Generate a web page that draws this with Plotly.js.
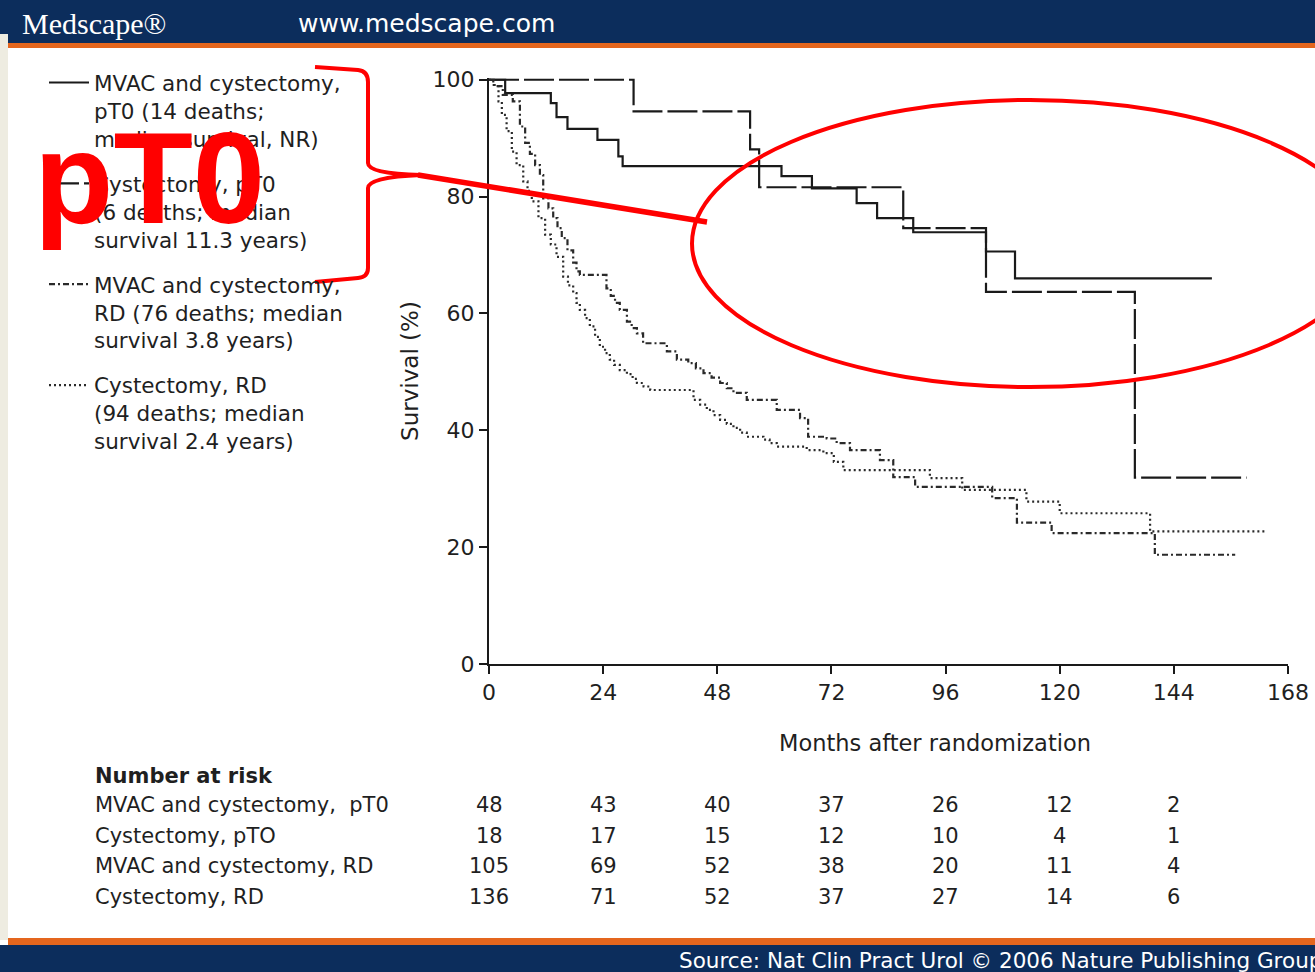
<!DOCTYPE html>
<html>
<head>
<meta charset="utf-8">
<script src="https://cdn.plot.ly/plotly-3.0.1.min.js"></script>
<style>html,body{margin:0;padding:0;background:#fff;}#chart{width:1315px;height:972px;}</style>
</head>
<body>
<div id="chart"></div>
<script>
// ---------------- data ----------------
const seriesNames = [
  "MVAC and cystectomy,<br>pT0 (14 deaths;<br>median survival, NR)",
  "Cystectomy, pT0<br>(6 deaths; median<br>survival 11.3 years)",
  "MVAC and cystectomy,<br>RD (76 deaths; median<br>survival 3.8 years)",
  "Cystectomy, RD<br>(94 deaths; median<br>survival 2.4 years)"
];

const monthsMvacPT0 = [0, 3.4, 13.0, 14.2, 16.5, 22.8, 27.2, 28.1, 61.5, 67.9, 77.3, 81.6, 89.2, 104.5, 110.6, 152.0];
const survMvacPT0   = [100, 97.7, 96.0, 93.6, 91.6, 89.7, 86.9, 85.2, 83.5, 81.4, 78.9, 76.3, 73.9, 70.6, 66.0, 66.0];

const monthsCysPT0 = [0, 30.4, 54.9, 56.8, 87.1, 104.5, 135.8, 159.3];
const survCysPT0   = [100, 94.6, 88.1, 81.6, 74.6, 63.7, 31.9, 31.9];

const monthsMvacRD = [0, 1.0, 2.9, 5.0, 6.5, 7.6, 8.6, 9.7, 10.7, 11.4, 12.5, 13.5, 14.4, 15.3, 16.5, 17.7, 18.4, 19.1, 24.7, 25.6,
  26.5, 27.5, 29.0, 30.0, 31.1, 32.4, 37.4, 39.5, 41.9, 43.5, 45.1, 46.8, 48.6, 50.0, 51.4, 54.2, 60.5, 65.4, 67.1, 71.0,
  73.1, 75.9, 82.2, 85.0, 89.6, 105.8, 111.0, 118.3, 140.0, 156.9];
const survMvacRD = [100, 98.9, 97.4, 96.3, 92.0, 89.2, 87.3, 85.4, 83.7, 79.7, 78.0, 76.3, 74.6, 72.9, 70.8, 68.7, 67.2, 66.6, 64.3, 63.0,
  61.8, 60.6, 58.6, 57.5, 56.6, 54.9, 53.5, 52.1, 51.5, 50.6, 49.8, 49.0, 48.1, 47.2, 46.4, 45.2, 43.5, 42.1, 38.9, 38.6,
  37.8, 36.6, 34.9, 32.0, 30.3, 28.4, 24.2, 22.4, 18.7, 18.7];

const monthsCysRD = [0, 0.9, 2.0, 2.7, 3.7, 4.8, 5.8, 7.2, 8.1, 9.0, 10.4, 11.8, 13.0, 14.2, 15.6, 16.6, 17.7, 18.4, 19.1, 20.2,
  21.2, 22.3, 23.3, 24.4, 25.4, 26.3, 27.5, 29.0, 30.2, 31.1, 32.5, 33.9, 43.0, 44.4, 45.8, 47.2, 48.6, 50.0, 51.4, 52.8,
  54.2, 57.7, 59.0, 60.5, 66.8, 70.3, 72.5, 74.5, 92.7, 99.5, 113.0, 120.0, 139.0, 163.5];
const survCysRD = [100, 99.1, 96.3, 94.0, 91.2, 87.7, 85.4, 82.6, 81.0, 79.2, 76.3, 73.5, 71.8, 69.7, 66.3, 64.8, 63.5, 61.8, 60.6, 59.2,
  57.8, 56.0, 54.3, 53.2, 52.1, 51.2, 50.3, 49.6, 48.8, 48.1, 47.5, 46.9, 45.2, 44.4, 43.5, 42.6, 41.8, 41.1, 40.4, 39.6,
  38.9, 38.4, 37.8, 37.2, 36.6, 36.1, 34.6, 33.2, 31.8, 29.8, 27.8, 25.8, 22.7, 22.7];

const xTicks = [0, 24, 48, 72, 96, 120, 144, 168];
const yTicks = [0, 20, 40, 60, 80, 100];
const xTitle = "Months after randomization";
const yTitle = "Survival (%)";

const riskTitle = "Number at risk";
const riskTimes = [0, 24, 48, 72, 96, 120, 144];
const riskLabels = ["MVAC and cystectomy,\u00a0 pT0", "Cystectomy, pTO", "MVAC and cystectomy, RD", "Cystectomy, RD"];
const riskMvacPT0 = [48, 43, 40, 37, 26, 12, 2];
const riskCysPT0  = [18, 17, 15, 12, 10, 4, 1];
const riskMvacRD  = [105, 69, 52, 38, 20, 11, 4];
const riskCysRD   = [136, 71, 52, 37, 27, 14, 6];

const headerLogo = "Medscape®";
const headerUrl = "www.medscape.com";
const footerText = "Source: Nat Clin Pract Urol © 2006 Nature Publishing Group";
const overlayText = "pT0";

// ---------------- layout helpers ----------------
const W = 1315, H = 972;
const M = {l: 489, r: 27, t: 78, b: 308};
const PW = W - M.l - M.r;
const PH = H - M.t - M.b;
function px(x) { return (x - M.l) / PW; }
function py(y) { return (H - M.b - y) / PH; }
function pathPx(cmds) {
  return cmds.map(c => {
    if (typeof c === 'string') return c;
    return px(c[0]).toFixed(5) + ',' + py(c[1]).toFixed(5);
  }).join(' ');
}

const FONT = 'DejaVu Sans, Arial, sans-serif';
const INK = '#1f1f1f';

const traces = [
  {x: monthsMvacPT0, y: survMvacPT0, name: seriesNames[0], legendgroup: 'a',
   line: {shape: 'hv', color: '#1a1a1a', width: 2.2, dash: 'solid'}},
  {x: monthsCysPT0, y: survCysPT0, name: seriesNames[1], legendgroup: 'b',
   line: {shape: 'hv', color: '#1a1a1a', width: 2.2, dash: '30px,5px'}},
  {x: monthsMvacRD, y: survMvacRD, name: seriesNames[2], legendgroup: 'c',
   line: {shape: 'hv', color: '#2a2a2a', width: 2.2, dash: '6px,3px,2px,3px'}},
  {x: monthsCysRD, y: survCysRD, name: seriesNames[3], legendgroup: 'd',
   line: {shape: 'hv', color: '#2a2a2a', width: 2.2, dash: '2px,3px'}}
].map(t => Object.assign({type: 'scatter', mode: 'lines', hoverinfo: 'skip'}, t));

// ---------------- annotations ----------------
const annotations = [];
annotations.push({text: headerLogo, xref: 'paper', yref: 'paper', x: px(20), y: py(23), xanchor: 'left', yanchor: 'middle',
  showarrow: false, font: {family: 'Liberation Serif, Times New Roman, serif', size: 30, color: '#ffffff'}});
annotations.push({text: headerUrl, xref: 'paper', yref: 'paper', x: px(296), y: py(24), xanchor: 'left', yanchor: 'middle',
  showarrow: false, font: {family: FONT, size: 25, color: '#ffffff'}});
annotations.push({text: footerText, xref: 'paper', yref: 'paper', x: px(677), y: py(960), xanchor: 'left', yanchor: 'middle',
  showarrow: false, font: {family: FONT, size: 21.5, color: '#ffffff'}});

// x-axis title, placed where the reference shows it
annotations.push({text: xTitle, xref: 'paper', yref: 'paper', x: px(935), y: py(743), xanchor: 'center', yanchor: 'middle',
  showarrow: false, font: {family: FONT, size: 22.5, color: INK}});

// number at risk table
annotations.push({text: '<b>' + riskTitle + '</b>', xref: 'paper', yref: 'paper', x: px(93), y: py(776), xanchor: 'left', yanchor: 'middle',
  showarrow: false, font: {family: FONT, size: 21, color: INK}});
const riskRows = [riskMvacPT0, riskCysPT0, riskMvacRD, riskCysRD];
const rowY = [805, 836, 866, 897];
riskRows.forEach((row, i) => {
  annotations.push({text: riskLabels[i], xref: 'paper', yref: 'paper', x: px(93), y: py(rowY[i]), xanchor: 'left', yanchor: 'middle',
    showarrow: false, font: {family: FONT, size: 21, color: INK}});
  row.forEach((v, j) => {
    annotations.push({text: String(v), xref: 'x', yref: 'paper', x: riskTimes[j], y: py(rowY[i]), xanchor: 'center', yanchor: 'middle',
      showarrow: false, font: {family: FONT, size: 21, color: INK}});
  });
});

// red overlay text
annotations.push({text: '<b>' + overlayText + '</b>', xref: 'paper', yref: 'paper', x: px(32), y: py(178), xanchor: 'left', yanchor: 'middle',
  showarrow: false, font: {family: 'Liberation Sans, Arial, sans-serif', size: 130, color: '#ff0000'}});

// ---------------- shapes ----------------
const NAVY = '#0c2d5c', ORANGE = '#e4661e';
const shapes = [
  {type: 'rect', xref: 'paper', yref: 'paper', x0: px(0), x1: px(W), y0: py(0), y1: py(43), fillcolor: NAVY, line: {width: 0}, layer: 'below'},
  {type: 'rect', xref: 'paper', yref: 'paper', x0: px(0), x1: px(W), y0: py(43), y1: py(48), fillcolor: ORANGE, line: {width: 0}, layer: 'below'},
  {type: 'rect', xref: 'paper', yref: 'paper', x0: px(0), x1: px(8), y0: py(34), y1: py(940), fillcolor: '#eeece1', line: {width: 0}, layer: 'below'},
  {type: 'rect', xref: 'paper', yref: 'paper', x0: px(8), x1: px(W), y0: py(938), y1: py(945), fillcolor: ORANGE, line: {width: 0}, layer: 'below'},
  {type: 'rect', xref: 'paper', yref: 'paper', x0: px(0), x1: px(W), y0: py(945), y1: py(H), fillcolor: NAVY, line: {width: 0}, layer: 'below'},
  {type: 'path', xref: 'paper', yref: 'paper', layer: 'above', line: {color: '#ff0000', width: 4},
   path: pathPx(['M', [315, 67], 'L', [358, 70], 'Q', [368, 71], [368, 82], 'L', [368, 163], 'Q', [368, 174], [421, 175],
                 'Q', [368, 177], [368, 188], 'L', [368, 268], 'Q', [368, 277], [358, 278], 'L', [315, 282]])},
  {type: 'line', xref: 'paper', yref: 'paper', layer: 'above', x0: px(418), y0: py(175), x1: px(707), y1: py(222),
   line: {color: '#ff0000', width: 5.5}},
  {type: 'circle', xref: 'paper', yref: 'paper', layer: 'above', x0: px(692), x1: px(1368), y0: py(100), y1: py(387),
   line: {color: '#ff0000', width: 4}}
];

const layout = {
  width: W, height: H,
  margin: {l: M.l, r: M.r, t: M.t, b: M.b, autoexpand: false},
  paper_bgcolor: '#ffffff', plot_bgcolor: '#ffffff',
  font: {family: FONT, size: 22, color: INK},
  showlegend: true,
  legend: {x: px(44), xanchor: 'left', y: py(62), yanchor: 'top', bgcolor: 'rgba(0,0,0,0)', borderwidth: 0,
           font: {family: FONT, size: 21.5, color: INK}, valign: 'top', tracegroupgap: 14, itemwidth: 40},
  xaxis: {range: [0, 168], tickvals: xTicks, ticktext: xTicks.map(String), showgrid: false, zeroline: false,
          showline: true, linecolor: '#1a1a1a', linewidth: 2, ticks: 'outside', ticklen: 8, tickwidth: 2, tickcolor: '#1a1a1a',
          tickfont: {family: FONT, size: 22, color: INK}},
  yaxis: {range: [0, 100.3], tickvals: yTicks, ticktext: yTicks.map(String), showgrid: false, zeroline: false,
          showline: true, linecolor: '#1a1a1a', linewidth: 2, ticks: 'outside', ticklen: 8, tickwidth: 2, tickcolor: '#1a1a1a',
          tickfont: {family: FONT, size: 22, color: INK},
          title: {text: yTitle, font: {family: FONT, size: 23, color: INK}, standoff: 8}},
  annotations: annotations,
  shapes: shapes
};

Plotly.newPlot('chart', traces, layout, {displayModeBar: false, staticPlot: true});
</script>
</body>
</html>
